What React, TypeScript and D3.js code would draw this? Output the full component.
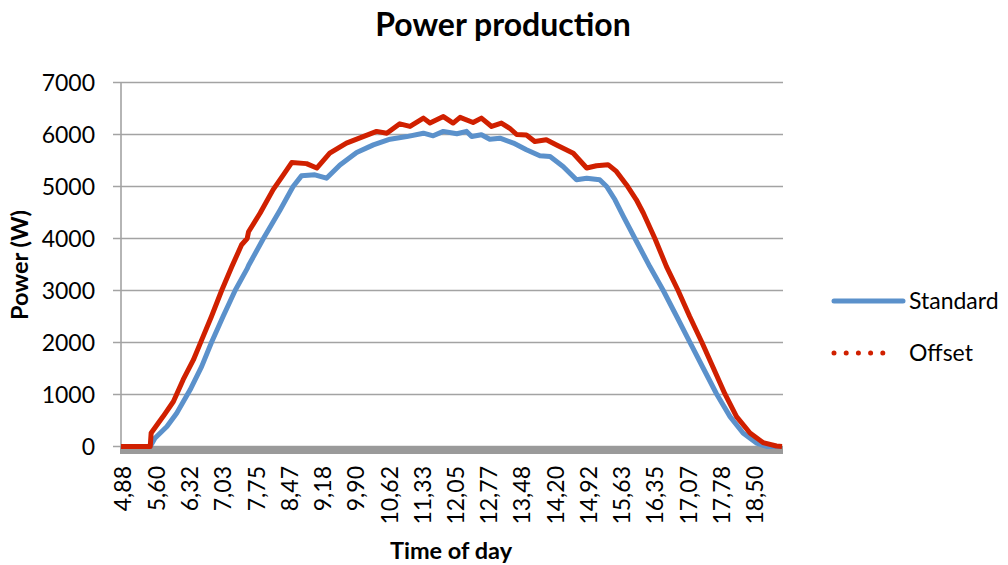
import React, { useEffect, useRef } from 'react';
import * as d3 from 'd3';

// hours of day and watts
const standardHours = [4.83, 5.46, 5.56, 5.82, 6.03, 6.32, 6.57, 6.78, 7.03, 7.29, 7.55, 7.58, 7.9, 8.26, 8.54, 8.72, 9.01, 9.26, 9.55, 9.91, 10.27, 10.63, 10.99, 11.35, 11.56, 11.78, 12.07, 12.28, 12.39, 12.6, 12.78, 13.0, 13.29, 13.57, 13.86, 14.08, 14.36, 14.65, 14.87, 15.15, 15.3, 15.48, 15.66, 15.91, 16.23, 16.52, 16.81, 17.09, 17.38, 17.67, 17.96, 18.24, 18.53, 18.75, 19.08];
const standardWatts = [0, 0, 160, 385, 640, 1090, 1540, 2000, 2500, 3000, 3420, 3480, 4000, 4550, 5000, 5205, 5225, 5160, 5415, 5655, 5800, 5910, 5960, 6025, 5975, 6060, 6015, 6060, 5960, 5995, 5910, 5930, 5835, 5705, 5590, 5575, 5385, 5130, 5160, 5130, 5000, 4745, 4425, 4000, 3460, 3000, 2500, 2010, 1510, 1010, 575, 260, 65, 0, 0];

const offsetHours = [4.83, 5.46, 5.48, 5.74, 5.96, 6.17, 6.39, 6.57, 6.78, 7.0, 7.22, 7.43, 7.55, 7.58, 7.83, 8.11, 8.33, 8.51, 8.83, 9.05, 9.33, 9.69, 10.05, 10.34, 10.56, 10.84, 11.06, 11.35, 11.49, 11.78, 11.99, 12.14, 12.42, 12.6, 12.82, 13.03, 13.21, 13.36, 13.57, 13.75, 14.0, 14.22, 14.58, 14.87, 15.08, 15.33, 15.51, 15.73, 15.94, 16.09, 16.34, 16.59, 16.84, 17.09, 17.35, 17.6, 17.85, 18.1, 18.39, 18.67, 18.96, 19.08];
const offsetWatts = [0, 0, 260, 580, 865, 1285, 1665, 2050, 2500, 3000, 3460, 3880, 4000, 4130, 4490, 4940, 5225, 5460, 5440, 5355, 5640, 5835, 5960, 6060, 6025, 6205, 6155, 6315, 6220, 6345, 6220, 6330, 6230, 6315, 6155, 6220, 6120, 6000, 5990, 5865, 5900, 5800, 5640, 5355, 5400, 5420, 5290, 5030, 4745, 4490, 4000, 3460, 3000, 2500, 2010, 1510, 1010, 575, 260, 75, 10, 0];

const timeLabels = ['4,88', '5,60', '6,32', '7,03', '7,75', '8,47', '9,18', '9,90', '10,62', '11,33', '12,05', '12,77', '13,48', '14,20', '14,92', '15,63', '16,35', '17,07', '17,78', '18,50'];
const powerTicks = [0, 1000, 2000, 3000, 4000, 5000, 6000, 7000];

const seriesNames = ['Standard', 'Offset'];
const seriesColors = ['#5b91cb', '#d02000'];

const FONT = 'Lato, "Open Sans", sans-serif';

export default function App() {
  const ref = useRef<SVGSVGElement>(null);

  useEffect(() => {
    const width = 1008;
    const height = 565;
    const svg = d3.select(ref.current);
    svg.selectAll('*').remove();

    const x = d3.scaleLinear().domain([4.83, 19.08]).range([121, 782]);
    const y = d3.scaleLinear().domain([0, 7000]).range([446.5, 82.5]);

    svg.append('rect').attr('width', width).attr('height', height).attr('fill', '#fff');

    // title
    svg.append('text')
      .attr('x', 503).attr('y', 36)
      .attr('text-anchor', 'middle')
      .attr('font-family', FONT).attr('font-weight', 700).attr('font-size', 32)
      .text('Power production');

    // gridlines + y labels
    const yg = svg.append('g');
    powerTicks.forEach(t => {
      yg.append('line')
        .attr('x1', 113).attr('x2', 783)
        .attr('y1', y(t)).attr('y2', y(t))
        .attr('stroke', '#a3a3a3').attr('stroke-width', 1.6);
      yg.append('text')
        .attr('x', 95).attr('y', y(t)).attr('dy', '0.35em')
        .attr('text-anchor', 'end')
        .attr('font-family', FONT).attr('font-size', 23)
        .text(t);
    });
    yg.append('line')
      .attr('x1', 121).attr('x2', 121)
      .attr('y1', y(7000)).attr('y2', y(0))
      .attr('stroke', '#a3a3a3').attr('stroke-width', 1.6);

    // thick x axis band
    svg.append('rect')
      .attr('x', 120).attr('y', y(0) - 0.5)
      .attr('width', 663).attr('height', 8)
      .attr('fill', '#9a9a9a');

    // x labels
    timeLabels.forEach(lbl => {
      const v = parseFloat(lbl.replace(',', '.'));
      svg.append('text')
        .attr('transform', `translate(${x(v)},466) rotate(-90)`)
        .attr('dy', '0.35em')
        .attr('text-anchor', 'end')
        .attr('font-family', FONT).attr('font-size', 23)
        .text(lbl);
    });

    // axis titles
    svg.append('text')
      .attr('x', 451).attr('y', 559)
      .attr('text-anchor', 'middle')
      .attr('font-family', FONT).attr('font-weight', 700).attr('font-size', 23.5)
      .text('Time of day');
    svg.append('text')
      .attr('transform', 'translate(20,265) rotate(-90)')
      .attr('dy', '0.35em')
      .attr('text-anchor', 'middle')
      .attr('font-family', FONT).attr('font-weight', 700).attr('font-size', 23.5)
      .text('Power (W)');

    // series
    const line = d3.line<[number, number]>()
      .x(d => x(d[0]))
      .y(d => y(d[1]));

    const series: [number, number][][] = [
      standardHours.map((h, i) => [h, standardWatts[i]]),
      offsetHours.map((h, i) => [h, offsetWatts[i]]),
    ];

    series.forEach((pts, i) => {
      svg.append('path')
        .attr('d', line(pts))
        .attr('fill', 'none')
        .attr('stroke', seriesColors[i])
        .attr('stroke-width', 5)
        .attr('stroke-linejoin', 'round');
    });

    // legend
    const lg = svg.append('g');
    seriesNames.forEach((name, i) => {
      const ly = 301 + i * 52;
      const l = lg.append('line')
        .attr('x1', 834).attr('x2', i === 0 ? 903 : 894)
        .attr('y1', ly).attr('y2', ly)
        .attr('stroke', seriesColors[i])
        .attr('stroke-width', 5)
        .attr('stroke-linecap', 'round');
      if (i === 1) l.attr('stroke-dasharray', '0 12.2');
      lg.append('text')
        .attr('x', 909).attr('y', ly).attr('dy', '0.35em')
        .attr('font-family', FONT).attr('font-size', 23)
        .text(name);
    });
  }, []);

  return (
    <svg ref={ref} width={1008} height={565} style={{ position: 'absolute', left: 0, top: 0 }} />
  );
}
